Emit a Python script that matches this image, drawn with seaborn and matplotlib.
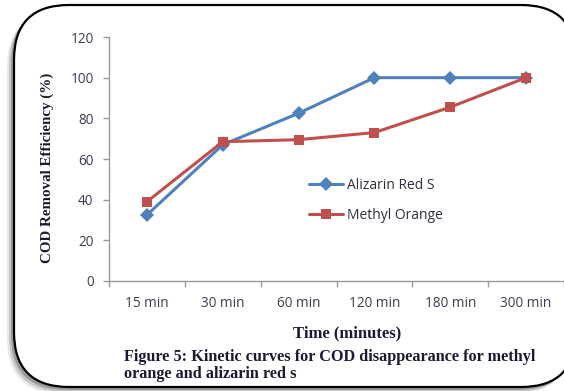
import numpy as np
import pandas as pd
import matplotlib
matplotlib.use("Agg")
import matplotlib.pyplot as plt
from matplotlib.patches import FancyBboxPatch
from matplotlib.transforms import IdentityTransform
import seaborn as sns

# Sampling times and COD removal efficiency (%) for each dye
times = ["15 min", "30 min", "60 min", "120 min", "180 min", "300 min"]
alizarin_red_s = [32.5, 67, 82.5, 100, 100, 100]
methyl_orange = [39, 68.5, 69.5, 73, 85.5, 100]
series_names = ["Alizarin Red S", "Methyl Orange"]
y_ticks = [0, 20, 40, 60, 80, 100, 120]

df = pd.DataFrame({
    "Time": times * 2,
    "COD": alizarin_red_s + methyl_orange,
    "Dye": [series_names[0]] * len(times) + [series_names[1]] * len(times),
})

sns.set_theme(style="white")
plt.rcParams["font.family"] = ["Open Sans", "DejaVu Sans"]

W, H = 564, 391
fig = plt.figure(figsize=(W / 100, H / 100), dpi=100)
fig.patch.set_facecolor("white")

# Rounded frame with a soft drop shadow toward the lower left
for off, alpha in [(7, 0.10), (5, 0.18), (3, 0.30)]:
    fig.patches.append(FancyBboxPatch(
        (14 - off, 4 - off), 562, 382,
        boxstyle="round,pad=0,rounding_size=55",
        transform=IdentityTransform(), facecolor="#303030",
        edgecolor="none", alpha=alpha, zorder=-3))
fig.patches.append(FancyBboxPatch(
    (14, 4), 562, 382, boxstyle="round,pad=0,rounding_size=55",
    transform=IdentityTransform(), facecolor="white",
    edgecolor="black", linewidth=1.6, zorder=-2))

ax = fig.add_axes([109 / W, 1 - 281 / H, (564 - 109) / W, (281 - 37) / H])
ax.set_facecolor("none")
ax.set_zorder(1)

palette = {series_names[0]: "#4F81BD", series_names[1]: "#C0504D"}
markers = {series_names[0]: "D", series_names[1]: "s"}
sns.lineplot(data=df, x="Time", y="COD", hue="Dye", style="Dye",
             palette=palette, markers=markers, dashes=False,
             linewidth=2.2, markersize=7, markeredgewidth=0,
             sort=False, ax=ax)

ax.set_xlim(-0.5, len(times) - 0.5)
ax.set_ylim(0, 120)
ax.set_yticks(y_ticks)
ax.set_xlabel("")
ax.set_ylabel("")

tick_color = "#3c3c50"
ax.set_xticks(range(len(times)))
ax.set_xticklabels(times)
ax.set_xticks(np.arange(-0.5, len(times), 1.0), minor=True)
ax.tick_params(axis="x", which="major", length=0, pad=11,
               labelsize=9.8, labelcolor=tick_color)
ax.tick_params(axis="x", which="minor", length=4, width=1,
               color="#9a9a9a", direction="out", bottom=True)
ax.tick_params(axis="y", which="major", length=4, width=1,
               color="#9a9a9a", direction="out", left=True, pad=7,
               labelsize=9.8, labelcolor=tick_color)

for side in ["top", "right"]:
    ax.spines[side].set_visible(False)
for side in ["left", "bottom"]:
    ax.spines[side].set_color("#9a9a9a")
    ax.spines[side].set_linewidth(1.0)

ax.legend(loc="upper left", bbox_to_anchor=(296 / W, 1 - 165 / H),
          bbox_transform=fig.transFigure, frameon=False,
          handlelength=2.5, labelspacing=1.1, handletextpad=0.3,
          fontsize=10, labelcolor="#303040")

serif = ["Liberation Serif", "DejaVu Serif"]
fig.text(47 / W, 1 - 168 / H, "COD Removal Efficiency (%)", rotation=90,
         ha="center", va="center", fontsize=10.8, fontweight="bold",
         family=serif, color="#1a1a30")
fig.text(347 / W, 1 - 333 / H, "Time (minutes)", ha="center",
         va="center", fontsize=12, fontweight="bold", family=serif,
         color="#1a1a30")
fig.text(124 / W, 1 - 357 / H,
         "Figure 5: Kinetic curves for COD disappearance for methyl",
         ha="left", va="center", fontsize=11.7, fontweight="bold",
         family=serif, color="#1a1a30")
fig.text(124 / W, 1 - 374 / H, "orange and alizarin red s", ha="left",
         va="center", fontsize=11.7, fontweight="bold", family=serif,
         color="#1a1a30")

fig.savefig("out.png", dpi=100)
